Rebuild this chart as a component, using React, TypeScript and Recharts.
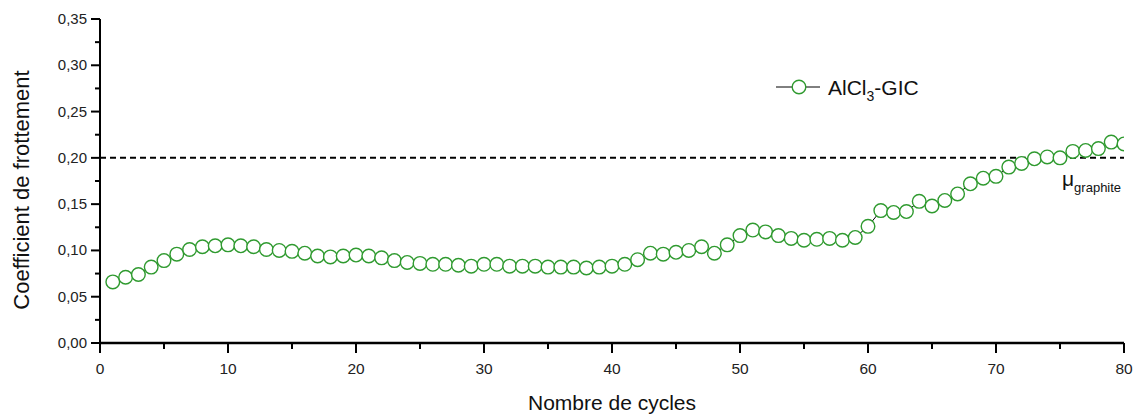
import { Line, LineChart, ReferenceLine, XAxis, YAxis } from 'recharts';

const friction = [
  0.066, 0.071, 0.074, 0.082, 0.089, 0.096, 0.101, 0.104, 0.105, 0.106,
  0.105, 0.104, 0.101, 0.1, 0.099, 0.097, 0.094, 0.093, 0.094, 0.095,
  0.094, 0.092, 0.089, 0.087, 0.086, 0.085, 0.085, 0.084, 0.083, 0.085,
  0.085, 0.083, 0.083, 0.083, 0.082, 0.082, 0.082, 0.081, 0.082, 0.083,
  0.085, 0.09, 0.097, 0.096, 0.098, 0.1, 0.104, 0.097, 0.106, 0.116,
  0.122, 0.12, 0.116, 0.113, 0.111, 0.112, 0.113, 0.111, 0.114, 0.126,
  0.143, 0.141, 0.142, 0.153, 0.148, 0.154, 0.161, 0.172, 0.178, 0.18,
  0.19, 0.194, 0.199, 0.201, 0.2, 0.207, 0.208, 0.21, 0.217, 0.215,
];
const xTicks = [0, 5, 10, 15, 20, 25, 30, 35, 40, 45, 50, 55, 60, 65, 70, 75, 80];
const xMajor = [0, 10, 20, 30, 40, 50, 60, 70, 80];
const yTicks = [0, 0.025, 0.05, 0.075, 0.1, 0.125, 0.15, 0.175, 0.2, 0.225, 0.25, 0.275, 0.3, 0.325, 0.35];
const yMajor = [0, 0.05, 0.1, 0.15, 0.2, 0.25, 0.3, 0.35];
const graphiteMu = 0.2;

const data = friction.map((mu, i) => ({ cycle: i + 1, mu }));

const FONT = '"Liberation Sans", Arial, sans-serif';
const GREEN = '#2f9a2f';

function XTick({ x, y, payload }: any) {
  const major = xMajor.includes(payload.value);
  return (
    <g>
      <line x1={x} x2={x} y1={y} y2={y + (major ? 10 : 6)} stroke="#000" strokeWidth={2} />
      {major && (
        <text x={x} y={y + 31} textAnchor="middle" fontSize={15.5} fontFamily={FONT} fill="#222">
          {payload.value}
        </text>
      )}
    </g>
  );
}

function YTick({ x, y, payload }: any) {
  const major = yMajor.some((v) => Math.abs(v - payload.value) < 1e-9);
  return (
    <g>
      <line x1={x} x2={x - (major ? 9 : 5)} y1={y} y2={y} stroke="#000" strokeWidth={2} />
      {major && (
        <text x={x - 13} y={y + 5} textAnchor="end" fontSize={15} fontFamily={FONT} fill="#222">
          {payload.value.toFixed(2).replace('.', ',')}
        </text>
      )}
    </g>
  );
}

function GraphiteLabel({ viewBox }: any) {
  const x = viewBox.x + viewBox.width - 62;
  const y = viewBox.y + 28;
  return (
    <text x={x} y={y} fontFamily={FONT} fill="#111">
      <tspan fontSize={21}>μ</tspan>
      <tspan fontSize={13} dy={6}>graphite</tspan>
    </text>
  );
}

export default function App() {
  return (
    <div style={{ position: 'absolute', left: 0, top: 0, width: 1137, height: 414, background: '#fff' }}>
      <LineChart width={1137} height={414} data={data} margin={{ top: 19, right: 13, bottom: 21, left: 40 }}>
        <XAxis
          type="number"
          dataKey="cycle"
          domain={[0, 80]}
          ticks={xTicks}
          interval={0}
          tickSize={0}
          tickMargin={0}
          tickLine={false}
          tick={<XTick />}
          height={50}
          stroke="#000"
          strokeWidth={2.5}
          allowDataOverflow
        />
        <YAxis
          type="number"
          domain={[0, 0.35]}
          ticks={yTicks}
          interval={0}
          tickSize={0}
          tickMargin={0}
          tickLine={false}
          tick={<YTick />}
          width={60}
          stroke="#000"
          strokeWidth={2}
          allowDataOverflow
        />
        <Line
          dataKey="mu"
          type="linear"
          stroke="#000"
          strokeWidth={1}
          isAnimationActive={false}
          dot={{ r: 6.8, fill: '#fff', stroke: GREEN, strokeWidth: 1.4 }}
          activeDot={false}
        />
        <ReferenceLine
          y={graphiteMu}
          stroke="#000"
          strokeWidth={2}
          strokeDasharray="6 4"
          label={<GraphiteLabel />}
        />
      </LineChart>
      <svg
        width={200}
        height={40}
        style={{ position: 'absolute', left: 770, top: 67, overflow: 'visible' }}
      >
        <line x1={6} x2={50} y1={20} y2={20} stroke="#000" strokeWidth={1} />
        <circle cx={29} cy={20} r={6.8} fill="#fff" stroke={GREEN} strokeWidth={1.4} />
        <text x={58} y={28} fontFamily={FONT} fontSize={21} fill="#111">
          AlCl
          <tspan fontSize={14} dy={6}>3</tspan>
          <tspan dy={-6}>-GIC</tspan>
        </text>
      </svg>
      <div
        style={{
          position: 'absolute',
          left: 0,
          top: 392,
          width: 1224,
          textAlign: 'center',
          fontFamily: FONT,
          fontSize: 21,
          color: '#111',
          lineHeight: '21px',
        }}
      >
        Nombre de cycles
      </div>
      <div
        style={{
          position: 'absolute',
          left: 22,
          top: 190,
          transform: 'translate(-50%, -50%) rotate(-90deg)',
          whiteSpace: 'nowrap',
          fontFamily: FONT,
          fontSize: 22,
          color: '#111',
        }}
      >
        Coefficient de frottement
      </div>
    </div>
  );
}
